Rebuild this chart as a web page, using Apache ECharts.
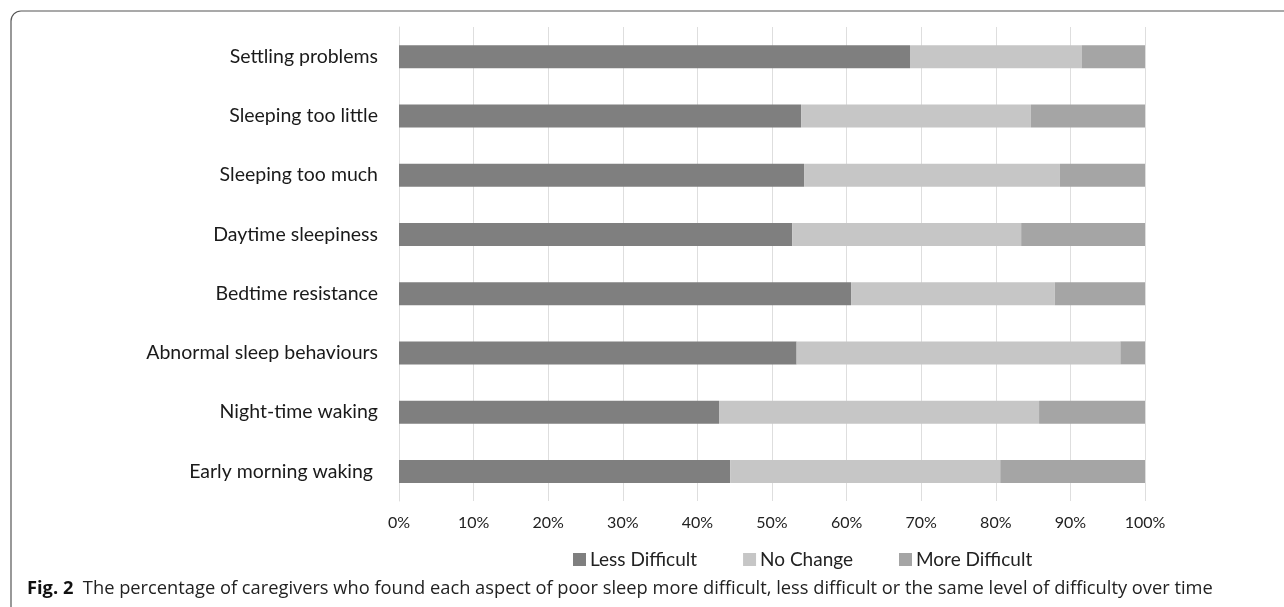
<!DOCTYPE html>
<html lang="en" style="height: 100%">
<head>
  <meta charset="utf-8">
  <title>Sleep difficulty over time</title>
</head>
<body style="height: 100%; margin: 0; background: #fff">
  <div id="container" style="width: 1284px; height: 607px"></div>
  <script type="text/javascript" src="https://cdn.jsdelivr.net/npm/echarts@6/dist/echarts.min.js"></script>
  <script type="text/javascript">
    // data (percent of caregivers)
    var categories = ['Settling problems', 'Sleeping too little', 'Sleeping too much', 'Daytime sleepiness',
      'Bedtime resistance', 'Abnormal sleep behaviours', 'Night-time waking', 'Early morning waking '];
    var lessDifficult = [68.5, 53.9, 54.3, 52.7, 60.6, 53.3, 42.9, 44.4];
    var noChange = [23.0, 30.8, 34.3, 30.7, 27.3, 43.4, 42.9, 36.2];
    var moreDifficult = [8.5, 15.3, 11.4, 16.6, 12.1, 3.3, 14.2, 19.4];
    var seriesNames = ['Less Difficult', 'No Change', 'More Difficult'];
    var caption = 'The percentage of caregivers who found each aspect of poor sleep more difficult, less difficult or the same level of difficulty over time';

    var dom = document.getElementById('container');
    var myChart = echarts.init(dom, null, { renderer: 'canvas' });
    var labelFont = 'Lato, "Open Sans", sans-serif';

    var option = {
      animation: false,
      color: ['#7f7f7f', '#c6c6c6', '#a5a5a5'],
      grid: { left: 399, right: 139, top: 27, bottom: 106 },
      legend: {
        data: seriesNames,
        left: 568,
        top: 545,
        icon: 'rect',
        itemWidth: 13,
        itemHeight: 13,
        itemGap: 46,
        textStyle: { fontFamily: labelFont, fontSize: 19, color: '#222', padding: [0, 0, 0, -1] }
      },
      xAxis: {
        type: 'value',
        min: 0,
        max: 100,
        interval: 10,
        axisLine: { show: false },
        axisTick: { show: false },
        splitLine: { lineStyle: { color: '#dedede', width: 1 } },
        axisLabel: {
          formatter: '{value}%',
          margin: 14,
          fontFamily: labelFont,
          fontSize: 16,
          color: '#222'
        }
      },
      yAxis: {
        type: 'category',
        inverse: true,
        data: categories,
        axisLine: { lineStyle: { color: '#dedede' } },
        axisTick: { show: false },
        axisLabel: { margin: 21, fontFamily: labelFont, fontSize: 19.5, color: '#1a1a1a' }
      },
      series: [
        { name: seriesNames[0], type: 'bar', stack: 'total', barWidth: 23, data: lessDifficult },
        { name: seriesNames[1], type: 'bar', stack: 'total', barWidth: 23, data: noChange },
        { name: seriesNames[2], type: 'bar', stack: 'total', barWidth: 23, data: moreDifficult }
      ],
      graphic: [
        {
          type: 'rect',
          shape: { x: 11, y: 11, width: 1400, height: 700, r: [10, 0, 0, 0] },
          style: { fill: 'none', stroke: '#555', lineWidth: 1.2 },
          silent: true
        },
        {
          type: 'text',
          left: 27,
          top: 580,
          style: {
            text: '{b|Fig. 2}  ' + caption,
            rich: {
              b: { fontWeight: 'bold', fontFamily: '"Open Sans", sans-serif', fontSize: 18.3, fill: '#111' }
            },
            font: '18.3px "Open Sans", sans-serif',
            fill: '#222'
          }
        }
      ]
    };
    myChart.setOption(option);
    window.addEventListener('resize', myChart.resize);
  </script>
</body>
</html>
